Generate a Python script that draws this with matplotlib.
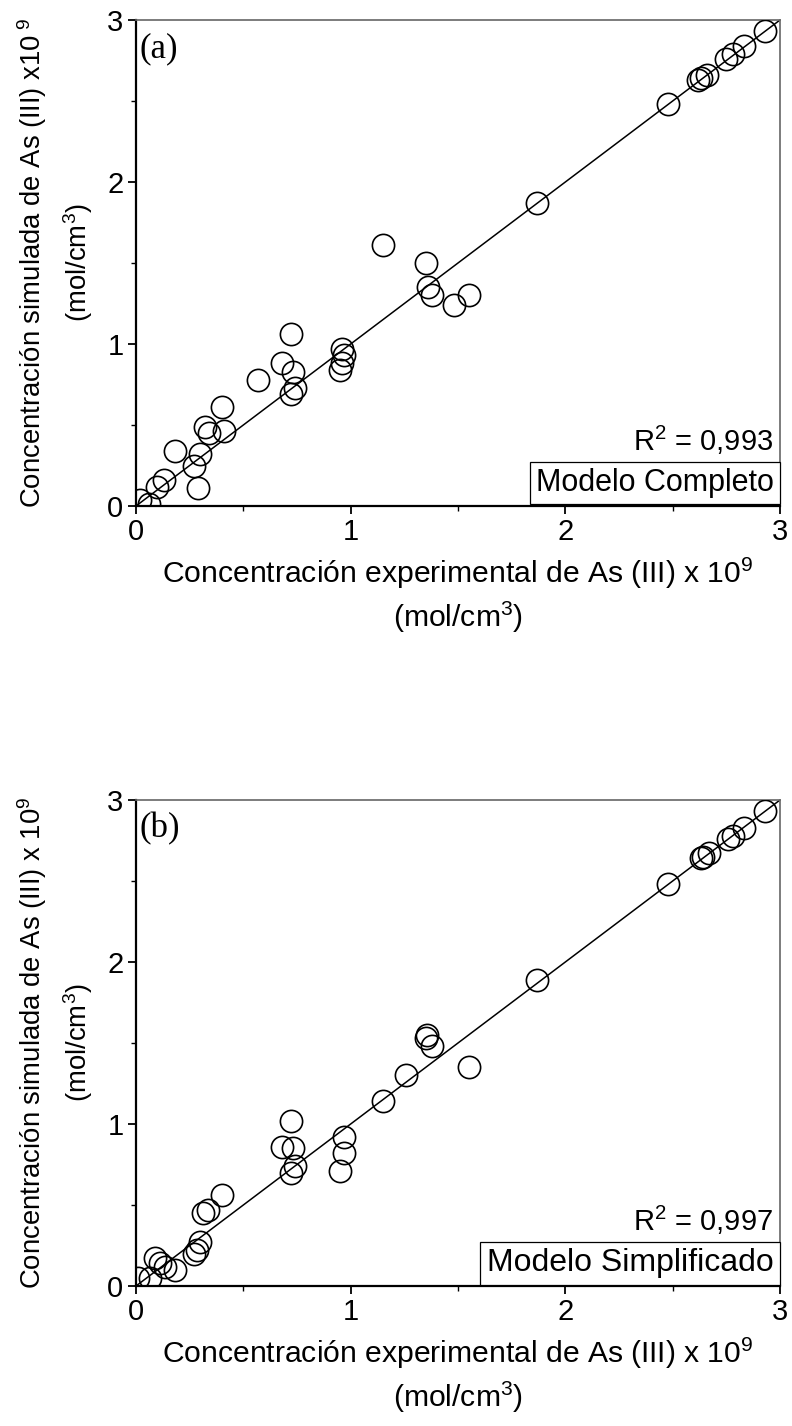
import matplotlib
matplotlib.use("Agg")
import matplotlib.pyplot as plt

plt.rcParams['font.family'] = ['Liberation Sans', 'DejaVu Sans']
plt.rcParams['mathtext.fontset'] = 'custom'
plt.rcParams['mathtext.rm'] = 'Liberation Sans'
plt.rcParams['mathtext.it'] = 'Liberation Sans'

# (a) Modelo Completo
exp_a = [0.02, 0.06, 0.10, 0.13, 0.18, 0.27, 0.29, 0.30, 0.32, 0.34, 0.40, 0.41,
         0.57, 0.68, 0.72, 0.73, 0.74, 0.72, 0.95, 0.96, 0.97, 0.96,
         1.15, 1.35, 1.36, 1.38, 1.48, 1.55, 1.87,
         2.48, 2.62, 2.63, 2.66, 2.75, 2.78, 2.83, 2.93]
sim_a = [0.04, 0.01, 0.12, 0.16, 0.34, 0.25, 0.11, 0.32, 0.49, 0.45, 0.61, 0.46,
         0.78, 0.88, 1.06, 0.83, 0.73, 0.69, 0.84, 0.88, 0.93, 0.97,
         1.61, 1.50, 1.35, 1.30, 1.24, 1.30, 1.87,
         2.48, 2.63, 2.64, 2.66, 2.76, 2.79, 2.84, 2.93]

# (b) Modelo Simplificado
exp_b = [0.01, 0.065, 0.09, 0.11, 0.135, 0.18, 0.27, 0.285, 0.30, 0.31, 0.335, 0.40,
         0.68, 0.72, 0.73, 0.74, 0.72, 0.95, 0.97, 0.97,
         1.15, 1.26, 1.35, 1.355, 1.38, 1.55, 1.87,
         2.48, 2.63, 2.64, 2.67, 2.76, 2.78, 2.83, 2.93]
sim_b = [0.05, 0.05, 0.17, 0.14, 0.12, 0.10, 0.20, 0.22, 0.27, 0.45, 0.47, 0.56,
         0.86, 1.02, 0.85, 0.74, 0.70, 0.71, 0.82, 0.92,
         1.14, 1.30, 1.53, 1.55, 1.48, 1.35, 1.89,
         2.48, 2.64, 2.65, 2.67, 2.76, 2.78, 2.83, 2.93]

ticks = [0, 1, 2, 3]
fs = 21

fig = plt.figure(figsize=(7.92, 14.26), dpi=100)


def panel(rect, x, y, tag, r2, model, model_fs, ylab):
    ax = fig.add_axes(rect)
    ax.plot([0, 3], [0, 3], color='black', lw=1.1, zorder=2)
    ax.plot(x, y, 'o', mfc='none', mec='black', ms=16, mew=1.2, zorder=3)
    ax.set_xlim(0, 3)
    ax.set_ylim(0, 3)
    ax.set_xticks(ticks)
    ax.set_yticks(ticks)
    ax.set_xticks([0.5, 1.5, 2.5], minor=True)
    ax.set_yticks([0.5, 1.5, 2.5], minor=True)
    ax.tick_params(which='major', direction='out', length=6, width=1.3,
                  labelsize=fs, pad=3)
    ax.tick_params(which='minor', direction='out', length=3.5, width=1.0)
    for s in ['left', 'bottom']:
        ax.spines[s].set_linewidth(1.6)
    for s in ['top', 'right']:
        ax.spines[s].set_linewidth(1.2)
        ax.spines[s].set_color('#666666')
    ax.set_xlabel('Concentración experimental de As (III) x 10$^9$\n(mol/cm$^3$)',
                  fontsize=21.7, labelpad=7, linespacing=1.3)
    ax.set_ylabel(ylab, fontsize=19.8, labelpad=9, linespacing=1.45)
    ax.text(0.005, 0.975, tag, transform=ax.transAxes, ha='left', va='top',
            fontsize=25, family=['Liberation Serif', 'DejaVu Serif'])
    ax.text(0.99, 0.1, 'R$^2$ = ' + r2, transform=ax.transAxes,
            ha='right', va='bottom', fontsize=fs)
    ax.text(0.99, 0.016, model, transform=ax.transAxes, ha='right', va='bottom',
            fontsize=model_fs,
            bbox=dict(boxstyle='square,pad=0.2', fc='white', ec='black', lw=0.9))
    return ax


panel([136 / 792, 1 - 506 / 1426, 644 / 792, 486 / 1426], exp_a, sim_a, '(a)',
      '0,993', 'Modelo Completo', 22,
      'Concentración simulada de As (III) x10$^{\\ 9}$\n(mol/cm$^3$)')
panel([136 / 792, 1 - 1286 / 1426, 644 / 792, 486 / 1426], exp_b, sim_b, '(b)',
      '0,997', 'Modelo Simplificado', 23,
      'Concentración simulada de As (III) x 10$^9$\n(mol/cm$^3$)')

fig.savefig('out.png', dpi=100)
